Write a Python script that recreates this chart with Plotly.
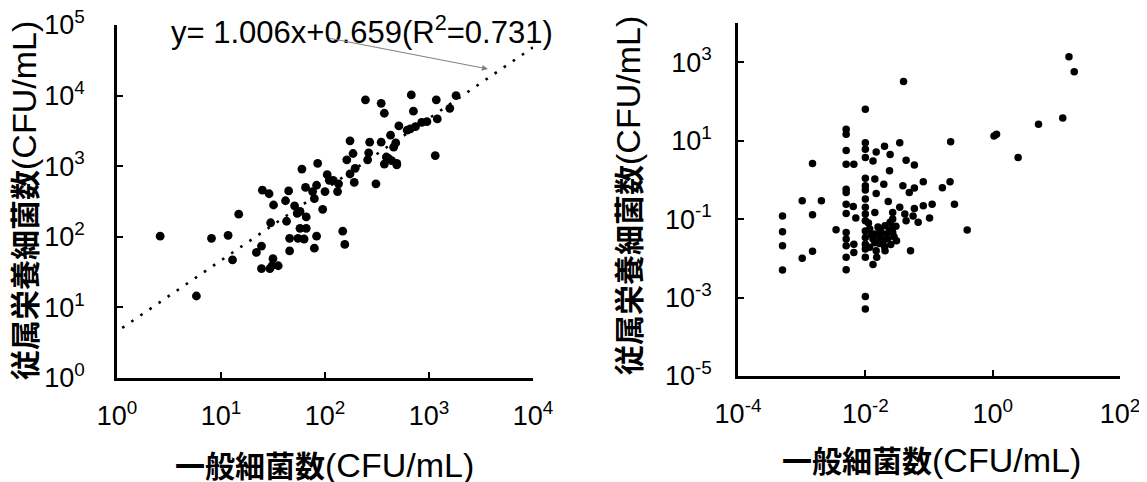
import plotly.graph_objects as go

# ---------------- data ----------------
left_x = [2.6, 5.8, 8.1, 11.7, 14.8, 12.9, 25, 29, 32, 30, 24.5, 21.9, 24.5, 31.6, 30.9, 35.5,
          44.7, 41.7, 42.7, 45.7, 45.7, 51, 54, 60, 65, 57.5, 66, 66, 55, 63, 83, 79, 83, 79,
          85, 95, 105, 110, 135, 132, 148, 155, 174, 186, 162, 195, 174, 191, 245, 347, 372,
          269, 263, 257, 309, 347, 427, 479, 457, 389, 372, 437, 490, 513, 676, 708, 661, 741,
          851, 955, 1175, 1202, 1148, 1585, 1820, 617, 76, 57.5, 29.5, 120, 100, 490, 407]
left_y = [102, 14.5, 95, 105, 209, 47, 457, 407, 282, 158, 74, 60, 35.5, 49, 38.9, 38.9,
          447, 324, 166, 95, 63, 275, 214, 912, 501, 132, 132, 191, 95, 93, 537, 347, 102, 69,
          1096, 245, 759, 631, 562, 437, 120, 78, 2291, 1514, 1230, 933, 776, 589, 8710, 7762,
          5623, 2188, 1549, 1230, 562, 2188, 2754, 2138, 1862, 1349, 1072, 1202, 1096, 3715,
          10233, 6026, 3388, 3631, 4169, 4266, 8710, 4677, 1413, 6607, 10000, 3236, 437, 229,
          35.5, 631, 437, 1047, 1288]

fit_slope = 1.006
fit_intercept = 0.659
fit_log_x = [0.05, 4.0]
fit_label = "y= 1.006x+0.659(R<sup>2</sup>=0.731)"

right_x = [15.8, 19.1, 0.0398, 0.01, 12.6, 5.25, 1.05, 1.15, 2.51, 0.219, 0.214, 0.162, 0.251,
           0.398, 0.102, 0.112, 0.0813, 0.0589, 0.0437, 0.0347, 0.0245, 0.024, 0.02, 0.0148,
           0.0389, 0.049, 0.0589, 0.0589, 0.0813, 0.0513, 0.005, 0.005, 0.005, 0.005, 0.0066,
           0.005, 0.005, 0.005, 0.00646, 0.005, 0.00708, 0.00347, 0.005, 0.005, 0.005, 0.005,
           0.0066, 0.0066, 0.005, 0.01, 0.01, 0.01, 0.01, 0.0132, 0.0151, 0.01, 0.01, 0.01,
           0.0132, 0.01, 0.01, 0.01, 0.01, 0.01, 0.01, 0.0141, 0.0195, 0.0148, 0.0229, 0.0141,
           0.01, 0.01, 0.01, 0.01, 0.0117, 0.0141, 0.017, 0.0204, 0.0245, 0.0269, 0.0132, 0.017,
           0.0214, 0.0269, 0.0309, 0.0148, 0.0204, 0.0117, 0.0269, 0.0347, 0.0417, 0.0437,
           0.0562, 0.0676, 0.0269, 0.0005, 0.0005, 0.0005, 0.0005, 0.00102, 0.00102, 0.00148,
           0.00148, 0.00148, 0.00204, 0.0158, 0.0178, 0.0191, 0.0224, 0.024, 0.0282, 0.0166,
           0.0251, 0.02, 0.0126, 0.0141, 0.0302, 0.0112]
right_y = [1380, 575, 324, 63, 38, 26.3, 13.2, 14.5, 3.72, 9.33, 0.891, 0.631, 0.24, 0.0525,
           0.107, 0.24, 0.891, 2.4, 3.16, 8.91, 4.47, 1.7, 7.24, 5.13, 0.708, 0.479, 0.617,
           0.186, 0.219, 0.0155, 19.5, 14.5, 5.62, 2.51, 2.51, 0.575, 0.479, 0.24, 0.209, 0.138,
           0.107, 0.0537, 0.0457, 0.0309, 0.0209, 0.0107, 0.0229, 0.0141, 0.00513, 0.00107,
           0.000513, 0.0107, 0.0174, 0.00692, 0.0107, 8.91, 6.03, 3.72, 3.02, 1.1, 0.708, 0.55,
           0.324, 0.2, 0.135, 1.05, 0.776, 0.447, 0.282, 0.148, 0.0912, 0.0501, 0.0339, 0.0229,
           0.0562, 0.0417, 0.0562, 0.0676, 0.0832, 0.0617, 0.0309, 0.0339, 0.0417, 0.0457,
           0.0282, 0.0155, 0.0155, 0.0191, 0.148, 0.2, 0.135, 0.0912, 0.12, 0.0832, 0.1, 0.12,
           0.0479, 0.0209, 0.00501, 0.295, 0.01, 2.63, 0.129, 0.0151, 0.295, 0.0631, 0.0447,
           0.0282, 0.0316, 0.0525, 0.0355, 0.024, 0.0224, 0.02, 0.0398, 0.0251, 0.0661, 0.0794]

left_x_ticks = [1, 10, 100, 1000, 10000]
left_x_text = ["10<sup>0</sup>", "10<sup>1</sup>", "10<sup>2</sup>", "10<sup>3</sup>", "10<sup>4</sup>"]
left_y_ticks = [1, 10, 100, 1000, 10000, 100000]
left_y_text = ["10<sup>0</sup>", "10<sup>1</sup>", "10<sup>2</sup>", "10<sup>3</sup>",
               "10<sup>4</sup>", "10<sup>5</sup>"]
right_x_ticks = [1e-4, 1e-2, 1, 100]
right_x_text = ["10<sup>-4</sup>", "10<sup>-2</sup>", "10<sup>0</sup>", "10<sup>2</sup>"]
right_y_ticks = [1e-5, 1e-3, 1e-1, 10, 1000]
right_y_text = ["10<sup>-5</sup>", "10<sup>-3</sup>", "10<sup>-1</sup>", "10<sup>1</sup>",
                "10<sup>3</sup>"]

x_title = "<b>一般細菌数</b><span style='font-size:34px'>(CFU/mL)</span>"
y_title = "<b>従属栄養細菌数</b><span style='font-size:34px'>(CFU/mL)</span>"

# ---------------- figure ----------------
W, H = 1147, 482
OFF = 8  # page body margin
EPS = 1e-4


def fx(p):
    return (p - OFF) / W


def fy(p):
    return 1 - (p - OFF) / H


LAT = "Liberation Sans, Arial, Noto Sans CJK JP"
fig = go.Figure()

fig.add_trace(go.Scatter(x=left_x, y=left_y, mode="markers",
                         marker=dict(color="black", size=8.8), xaxis="x", yaxis="y",
                         showlegend=False, hoverinfo="skip"))
fit_x = [10 ** v for v in fit_log_x]
fit_y = [10 ** (fit_slope * v + fit_intercept) for v in fit_log_x]
fig.add_trace(go.Scatter(x=fit_x, y=fit_y, mode="lines",
                         line=dict(color="black", width=2.6, dash="2.6px,8.4px"),
                         xaxis="x", yaxis="y", showlegend=False, hoverinfo="skip"))
fig.add_trace(go.Scatter(x=right_x, y=right_y, mode="markers",
                         marker=dict(color="black", size=7.5), xaxis="x2", yaxis="y2",
                         showlegend=False, hoverinfo="skip"))

axis_common = dict(type="log", showgrid=False, zeroline=False, showline=True,
                   linecolor="black", linewidth=2.6, ticks="inside", ticklen=6,
                   tickwidth=2.4, tickcolor="black", mirror=False, automargin=False,
                   ticklabeloverflow="allow",
                   tickfont=dict(family=LAT, size=27, color="black"), tickmode="array")

fig.update_layout(
    template="none",
    width=W, height=H, margin=dict(l=0, r=0, t=0, b=0, pad=0, autoexpand=False),
    paper_bgcolor="white", plot_bgcolor="white",
    font=dict(family=LAT, color="black"),
    xaxis=dict(axis_common, domain=[fx(117), fx(533)], range=[-EPS, 4 + EPS], anchor="y",
               tickvals=left_x_ticks, ticktext=left_x_text, ticklabelstandoff=12),
    yaxis=dict(axis_common, domain=[fy(378), fy(25)], range=[-EPS, 5 + EPS], anchor="x",
               tickvals=left_y_ticks, ticktext=left_y_text, ticklabelstandoff=24),
    xaxis2=dict(axis_common, domain=[fx(738), fx(1120)], range=[-4 - EPS, 2 + EPS], anchor="y2",
                tickvals=right_x_ticks, ticktext=right_x_text, ticklabelstandoff=12),
    yaxis2=dict(axis_common, domain=[fy(376), fy(23)], range=[-5 - EPS, 4], anchor="x2",
                tickvals=right_y_ticks, ticktext=right_y_text, ticklabelstandoff=18),
)

title_font = dict(family="Liberation Sans, Noto Sans CJK JP", size=30, color="black")
fig.add_annotation(text=x_title, xref="paper", yref="paper", x=fx(324), y=fy(465),
                   showarrow=False, font=title_font, xanchor="center", yanchor="middle")
fig.add_annotation(text=x_title, xref="paper", yref="paper", x=fx(931), y=fy(460),
                   showarrow=False, font=title_font, xanchor="center", yanchor="middle")
fig.add_annotation(text=y_title, xref="paper", yref="paper", x=fx(24), y=fy(201),
                   showarrow=False, font=title_font, textangle=-90,
                   xanchor="center", yanchor="middle")
fig.add_annotation(text=y_title, xref="paper", yref="paper", x=fx(628), y=fy(196),
                   showarrow=False, font=title_font, textangle=-90,
                   xanchor="center", yanchor="middle")

# regression equation and its arrow
fig.add_annotation(text=fit_label, xref="paper", yref="paper", x=fx(362), y=fy(30),
                   showarrow=False, font=dict(family=LAT, size=31, color="black"),
                   xanchor="center", yanchor="middle")
fig.add_annotation(text="", xref="x", yref="y", x=3.567, y=4.377, ax=-160, ay=-31,
                   showarrow=True, arrowhead=2, arrowsize=1.2, arrowwidth=1,
                   arrowcolor="#808080")

fig.write_html("out.html")
